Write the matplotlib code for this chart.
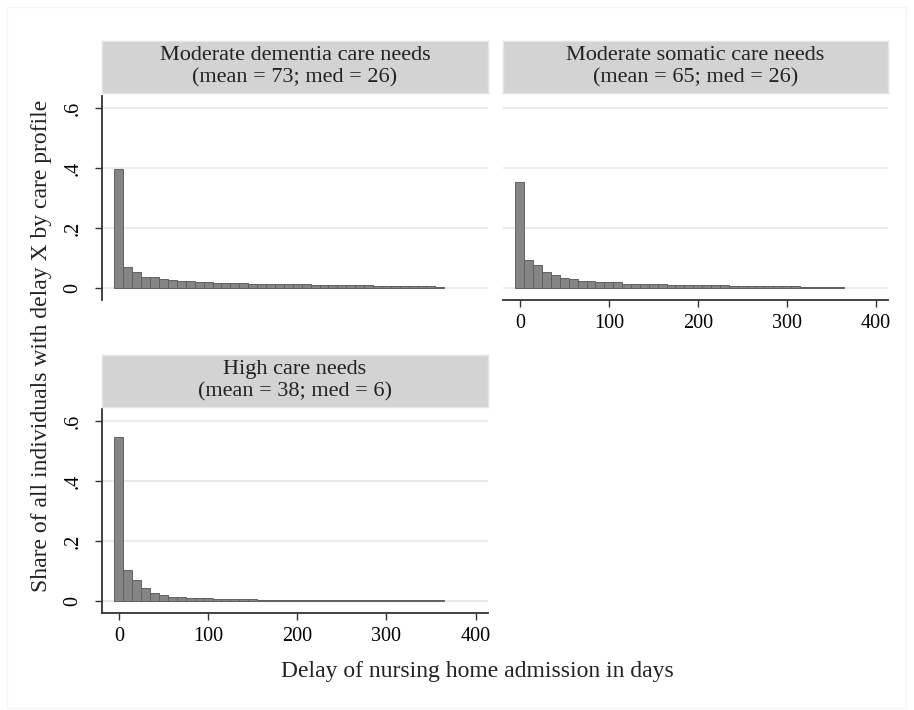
import matplotlib
matplotlib.use("Agg")
import matplotlib.pyplot as plt
import numpy as np
from matplotlib.patches import Rectangle

plt.rcParams['font.family'] = ['Liberation Serif', 'DejaVu Serif']

# histogram bins: 10-day bins centred on 0, 10, ..., 360
bin_centers = np.arange(0, 361, 10)

dementia = [0.397, 0.069, 0.053, 0.037, 0.037, 0.029, 0.028, 0.023, 0.023, 0.021,
            0.019, 0.018, 0.017, 0.016, 0.016, 0.015, 0.014, 0.014, 0.013, 0.012,
            0.012, 0.012, 0.011, 0.011, 0.010, 0.010, 0.009, 0.009, 0.009, 0.008,
            0.008, 0.007, 0.008, 0.007, 0.006, 0.006, 0.005]
somatic = [0.355, 0.094, 0.078, 0.055, 0.042, 0.034, 0.029, 0.023, 0.023, 0.021,
           0.020, 0.019, 0.015, 0.014, 0.013, 0.012, 0.012, 0.011, 0.011, 0.010,
           0.010, 0.009, 0.009, 0.009, 0.008, 0.008, 0.007, 0.007, 0.007, 0.006,
           0.006, 0.006, 0.005, 0.005, 0.005, 0.004, 0.004]
high = [0.546, 0.105, 0.071, 0.042, 0.027, 0.021, 0.014, 0.012, 0.011, 0.010,
        0.009, 0.008, 0.007, 0.007, 0.006, 0.006, 0.005, 0.005, 0.005, 0.004,
        0.004, 0.004, 0.004, 0.003, 0.003, 0.003, 0.003, 0.003, 0.003, 0.002,
        0.002, 0.002, 0.002, 0.002, 0.002, 0.002, 0.002]

titles = ["Moderate dementia care needs\n(mean = 73; med = 26)",
          "Moderate somatic care needs\n(mean = 65; med = 26)",
          "High care needs\n(mean = 38; med = 6)"]
y_ticks = [0, 0.2, 0.4, 0.6]
y_ticklabels = ["0", ".2", ".4", ".6"]
x_ticks = [0, 100, 200, 300, 400]

W, H = 914, 710
fig = plt.figure(figsize=(W / 100, H / 100), dpi=100)
fig.patch.set_facecolor("white")

# faint outer frame
fig.patches.append(Rectangle((7 / W, 2 / H), 899 / W, 701 / H, transform=fig.transFigure,
                             fill=False, edgecolor="#f6f6f6", lw=1))


def px_axes(x0, y0, x1, y1, **kw):
    # axes placed by pixel box (top-left origin)
    return fig.add_axes([x0 / W, 1 - y1 / H, (x1 - x0) / W, (y1 - y0) / H], **kw)


panels = [
    (dementia, titles[0], (102, 96, 488, 300), (102, 41, 488, 93), True, False),
    (somatic, titles[1], (503, 96, 888, 300), (503, 41, 888, 93), False, True),
    (high, titles[2], (102, 409, 488, 613), (102, 355, 488, 407), True, True),
]

for values, title, box, hbox, show_y, show_x in panels:
    ax = px_axes(*box)
    ax.bar(bin_centers, values, width=10, color="#858585", edgecolor="#606060",
           linewidth=0.7, zorder=3)
    ax.set_xlim(-19, 414)
    ax.set_ylim(-0.04, 0.64)
    ax.set_yticks(y_ticks)
    ax.grid(axis="y", color="#ebebeb", lw=1.5, zorder=0)
    ax.set_axisbelow(True)
    for s in ["top", "right"]:
        ax.spines[s].set_visible(False)
    ax.spines["left"].set_visible(show_y)
    ax.spines["bottom"].set_visible(show_x)
    for s in ["left", "bottom"]:
        ax.spines[s].set_color("#333333")
        ax.spines[s].set_linewidth(1.3)
    if show_y:
        ax.set_yticklabels(y_ticklabels, rotation=90, va="center", fontsize=14.5)
        ax.tick_params(axis="y", length=5, width=1, color="#333333", pad=9)
    else:
        ax.tick_params(axis="y", length=0, labelleft=False)
    ax.set_xticks(x_ticks)
    if show_x:
        ax.tick_params(axis="x", length=5, width=1, color="#333333", labelsize=14.5, pad=5)
    else:
        ax.tick_params(axis="x", length=0, labelbottom=False)

    hax = px_axes(*hbox)
    hax.set_facecolor("#d3d3d3")
    for s in hax.spines.values():
        s.set_color("#e4e4e4")
        s.set_linewidth(1)
    hax.set_xticks([])
    hax.set_yticks([])
    hax.text(0.5, 0.5, title, ha="center", va="center", fontsize=16,
             linespacing=1.2, transform=hax.transAxes, color="#222222")

fig.text(477 / W, 1 - 672 / H, "Delay of nursing home admission in days",
         ha="center", va="center", fontsize=17, color="#222222")
fig.text(42 / W, 1 - 346 / H, "Share of all individuals with delay X by care profile",
         ha="center", va="center", rotation=90, fontsize=17, color="#222222")

fig.savefig("out.png", dpi=100)
